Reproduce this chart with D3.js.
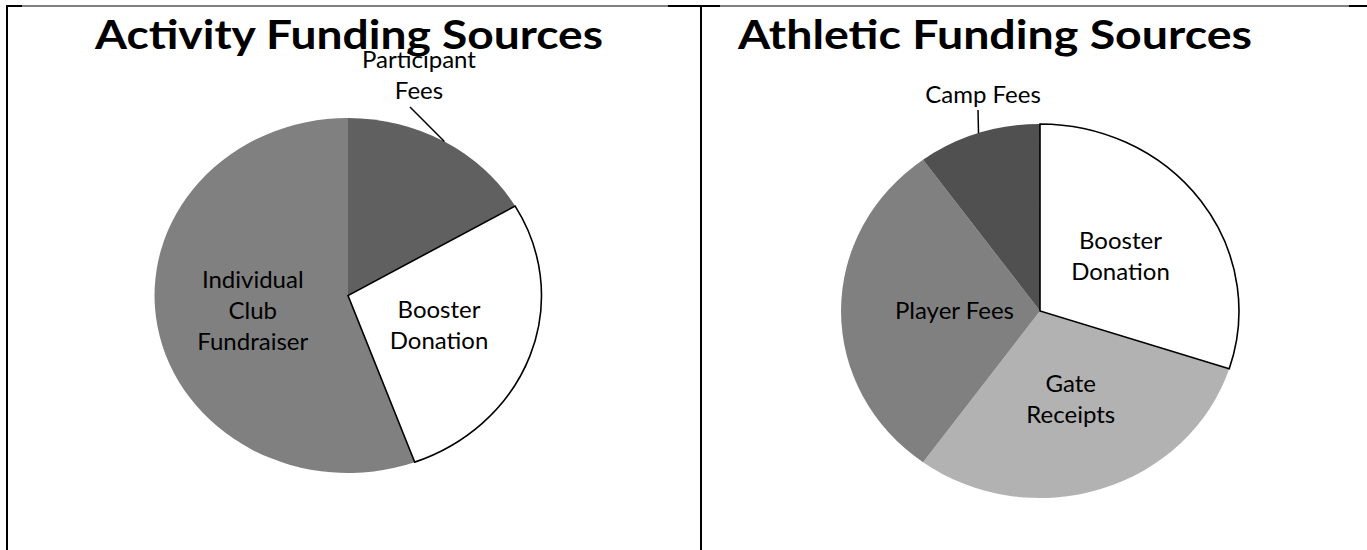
<!DOCTYPE html>
<html>
<head>
<meta charset="utf-8">
<script src="https://cdn.jsdelivr.net/npm/d3@7"></script>
<style>
  body { margin: 0; background: #fff; }
  svg text { font-family: Lato, "Open Sans", sans-serif; fill: #000; }
</style>
</head>
<body>
<svg id="chart"></svg>
<script>
// data
const activityTitle = "Activity Funding Sources";
const activityLabels = ["Participant Fees", "Booster Donation", "Individual Club Fundraiser"];
const activityValues = [16.6, 27.8, 55.6];
const activityColors = ["#606060", "#ffffff", "#808080"];

const athleticTitle = "Athletic Funding Sources";
const athleticLabels = ["Booster Donation", "Gate Receipts", "Player Fees", "Camp Fees"];
const athleticValues = [30, 30, 30, 10];
const athleticColors = ["#ffffff", "#b2b2b2", "#808080", "#505050"];

const width = 1367;
const height = 550;
const labelSize = 24;

const svg = d3.select("#chart").attr("width", width).attr("height", height);

// table borders
svg.append("line").attr("x1", 6).attr("x2", width).attr("y1", 6).attr("y2", 6)
  .attr("stroke", "#808080").attr("stroke-width", 2);
[[6, 22], [668, 720], [1349, 1367]].forEach((s) => {
  svg.append("line").attr("x1", s[0]).attr("x2", s[1]).attr("y1", 6).attr("y2", 6)
    .attr("stroke", "#000").attr("stroke-width", 2);
});
[7, 701].forEach((x) => {
  svg.append("line").attr("x1", x).attr("x2", x).attr("y1", 5).attr("y2", height)
    .attr("stroke", "#000").attr("stroke-width", 2);
});

const pie = d3.pie().sort(null).value((d) => d.value);

// draws one pie; labels that are "outside" get a leader line
const drawPie = (opts) => {
  let data = opts.labels.map((l, i) => ({ label: l, value: opts.values[i], color: opts.colors[i] }));
  let arcs = pie(data);
  let r = opts.r;
  let sx = opts.sx;
  let arc = d3.arc().innerRadius(0).outerRadius(r);

  let g = svg.append("g").attr("transform", "translate(" + opts.cx + "," + opts.cy + ")");

  // title
  svg.append("text")
    .attr("x", opts.titleX)
    .attr("y", 49)
    .attr("text-anchor", "middle")
    .attr("font-size", 40)
    .attr("font-weight", "bold")
    .attr("textLength", opts.titleW)
    .attr("lengthAdjust", "spacingAndGlyphs")
    .text(opts.title);

  let slices = g.append("g").attr("transform", "scale(" + sx + ",1)");
  slices.selectAll("path")
    .data(arcs)
    .enter()
    .append("path")
    .attr("d", arc)
    .attr("fill", (d) => d.data.color)
    .attr("stroke", (d) => (d.data.color === "#ffffff" ? "#000" : "none"))
    .attr("stroke-width", 1.6)
    .attr("vector-effect", "non-scaling-stroke");

  // white slices on top so their outline is not covered
  slices.selectAll("path").filter((d) => d.data.color === "#ffffff").raise();

  arcs.forEach((d) => {
    let out = opts.outside[d.data.label];
    let a = (d.startAngle + d.endAngle) / 2;
    if (out) {
      let px = Math.sin(a) * r * sx;
      let py = -Math.cos(a) * r;
      g.append("line")
        .attr("x1", px).attr("y1", py)
        .attr("x2", out.lx).attr("y2", out.ly)
        .attr("stroke", "#000").attr("stroke-width", 1.5);
      let t = g.append("text").attr("text-anchor", "middle").attr("font-size", labelSize);
      out.lines.forEach((ln, j) => {
        t.append("tspan").attr("x", out.tx).attr("y", out.ty + j * 31).text(ln);
      });
    } else {
      let lr = r * (opts.labelR[d.data.label] || 0.5);
      let x = Math.sin(a) * lr * sx;
      let y = -Math.cos(a) * lr;
      let lines = opts.wrap[d.data.label] || [d.data.label];
      let t = g.append("text").attr("text-anchor", "middle").attr("font-size", labelSize);
      let y0 = y - ((lines.length - 1) * 31) / 2 + 8;
      lines.forEach((ln, j) => {
        t.append("tspan").attr("x", x).attr("y", y0 + j * 31).text(ln);
      });
    }
  });
};

drawPie({
  title: activityTitle, titleX: 349, titleW: 508,
  labels: activityLabels, values: activityValues, colors: activityColors,
  cx: 348, cy: 295.5, r: 177.5, sx: 1.09,
  labelR: {},
  wrap: {
    "Booster Donation": ["Booster", "Donation"],
    "Individual Club Fundraiser": ["Individual", "Club", "Fundraiser"],
  },
  outside: {
    "Participant Fees": { lx: 410 - 348, ly: 107 - 295.5, tx: 419 - 348, ty: 68 - 295.5, lines: ["Participant", "Fees"] },
  },
});

drawPie({
  title: athleticTitle, titleX: 995, titleW: 514,
  labels: athleticLabels, values: athleticValues, colors: athleticColors,
  cx: 1040, cy: 311, r: 187, sx: 1.064,
  labelR: { "Player Fees": 0.43 },
  wrap: {
    "Booster Donation": ["Booster", "Donation"],
    "Gate Receipts": ["Gate", "Receipts"],
  },
  outside: {
    "Camp Fees": { lx: 978 - 1040, ly: 110 - 311, tx: 983 - 1040, ty: 103 - 311, lines: ["Camp Fees"] },
  },
});
</script>
</body>
</html>
